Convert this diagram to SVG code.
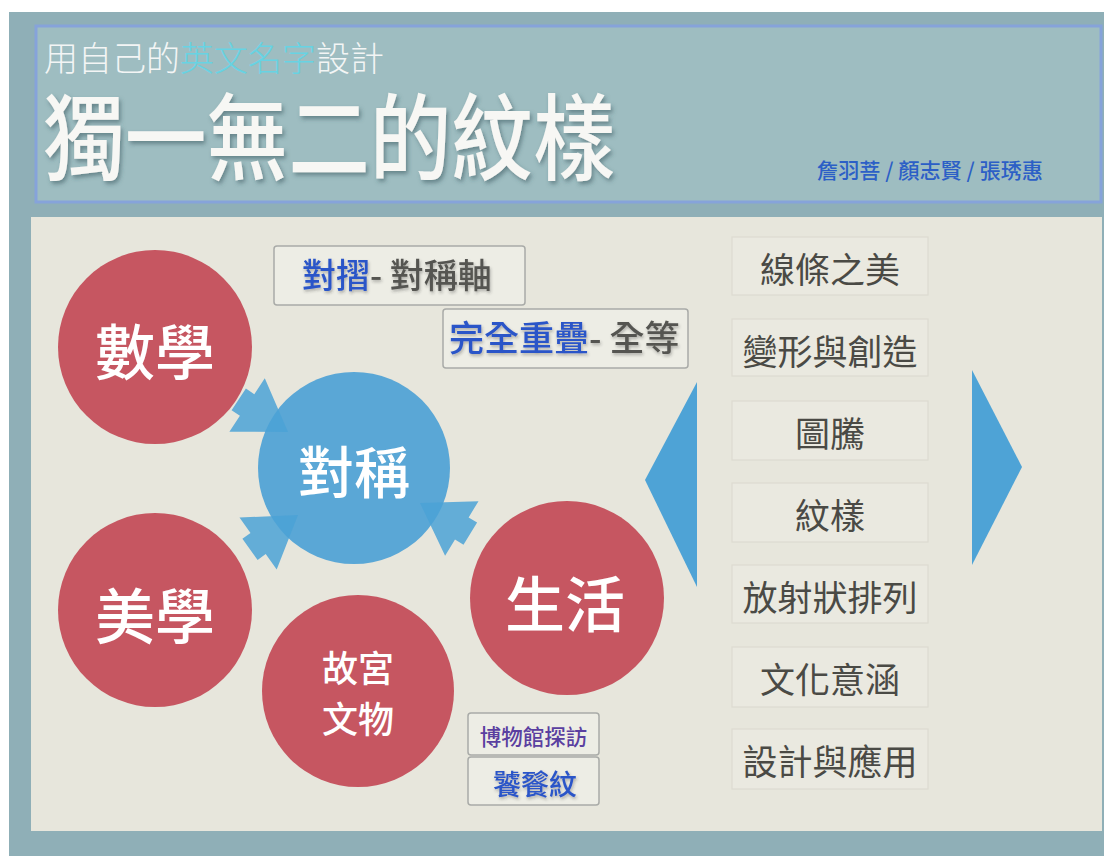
<svg xmlns="http://www.w3.org/2000/svg" width="1109" height="856" viewBox="0 0 1109 856">
<defs>
<style>
.cjk{font-family:"Noto Sans CJK TC","Noto Sans CJK SC",sans-serif;}
.red{fill:#c65661;}
.blue{fill:#5aa7d6;}
.arrow{fill:#4ba2d6;fill-opacity:0.85;}
.ctext{fill:#ffffff;text-anchor:middle;dominant-baseline:central;font-weight:500;}
.item rect{fill:#eae9e0;stroke:#dddbd1;stroke-width:1.2;}
.item text{fill:#4a4a45;font-size:35px;text-anchor:middle;dominant-baseline:central;}
.note{fill:#ffffff;fill-opacity:0.28;stroke:#a9aba8;stroke-width:1.5;}
.tri{fill:#4ea3d6;}
.sub{font-size:34px;font-weight:300;}
</style>
<filter id="sh" x="-10%" y="-20%" width="130%" height="150%">
<feDropShadow dx="2" dy="3" stdDeviation="2" flood-color="#2f4d55" flood-opacity="0.5"/>
</filter>
<filter id="sh2" x="-10%" y="-20%" width="130%" height="150%">
<feDropShadow dx="1" dy="2" stdDeviation="1.5" flood-color="#333" flood-opacity="0.35"/>
</filter>
</defs>

<rect x="0" y="0" width="1109" height="856" fill="#ffffff"/>
<rect x="9" y="12" width="1095" height="844" fill="#8fafb7"/>

<g id="header">
<rect x="36" y="26" width="1065" height="176" fill="#9ebdc1" stroke="#86a3da" stroke-width="3"/>
<text class="cjk sub" x="44" y="71" fill="#f3f5f5">用自己的</text>
<text class="cjk sub" x="180" y="71" fill="#67d3e3">英文名字</text>
<text class="cjk sub" x="316" y="71" fill="#f3f5f5">設計</text>
<text class="cjk" x="43" y="173" font-size="94" font-weight="500" fill="#f7f7f4" filter="url(#sh)" textLength="572" lengthAdjust="spacingAndGlyphs">獨一無二的紋樣</text>
<text class="cjk" x="817" y="178" font-size="21" font-weight="500" fill="#2c5fc6" textLength="226" lengthAdjust="spacingAndGlyphs">詹羽菩 / 顏志賢 / 張琇惠</text>
</g>

<rect id="panel" x="31" y="217" width="1071" height="614" fill="#e7e6dc"/>

<g id="node-symmetry">
<circle class="blue" cx="354" cy="468" r="96"/>
<text class="cjk ctext" x="354" y="468" font-size="56">對稱</text>
</g>

<g id="connectors">
<polygon class="arrow" points="288,432 229.4,431.7 239.9,415.8 231.6,410.2 245.9,388.6 254.3,394.2 264.8,378.3"/>
<polygon class="arrow" points="298,515 276.7,569.5 265.7,554.1 257.6,559.9 242.4,538.7 250.5,532.9 239.5,517.5"/>
<polygon class="arrow" points="420,503 478.5,501.2 468.6,517.4 477.1,522.6 463.5,544.8 455,539.6 445.1,555.8"/>
</g>

<g id="node-math">
<circle class="red" cx="155" cy="347" r="97"/>
<text class="cjk ctext" x="155" y="348" font-size="60">數學</text>
</g>
<g id="node-aesthetics">
<circle class="red" cx="155" cy="610" r="97"/>
<text class="cjk ctext" x="155" y="612" font-size="60">美學</text>
</g>
<g id="node-palace">
<circle class="red" cx="358" cy="691" r="96"/>
<text class="cjk ctext" x="358" y="666" font-size="36">故宮</text>
<text class="cjk ctext" x="358" y="717" font-size="36">文物</text>
</g>
<g id="node-life">
<circle class="red" cx="567" cy="598" r="97"/>
<text class="cjk ctext" x="565" y="600" font-size="60">生活</text>
</g>

<g id="note-fold">
<rect class="note" x="274" y="246" width="251" height="59" rx="3"/>
<text class="cjk" x="302" y="288" font-size="34" font-weight="500" filter="url(#sh2)"><tspan fill="#2a55c8">對摺</tspan><tspan fill="#555551">- 對稱軸</tspan></text>
</g>
<g id="note-overlap">
<rect class="note" x="443" y="309" width="245" height="59" rx="3"/>
<text class="cjk" x="449" y="351" font-size="35" font-weight="500" filter="url(#sh2)"><tspan fill="#2a55c8">完全重疊</tspan><tspan fill="#555551">- 全等</tspan></text>
</g>
<g id="note-museum">
<rect class="note" x="468" y="713" width="131" height="42" rx="3"/>
<text class="cjk" x="533.5" y="735" font-size="21.5" font-weight="500" fill="#5a3fa0" text-anchor="middle" dominant-baseline="central">博物館探訪</text>
</g>
<g id="note-taotie">
<rect class="note" x="468" y="757" width="131" height="48" rx="3"/>
<text class="cjk" x="535" y="783" font-size="28" font-weight="500" fill="#2a55c8" text-anchor="middle" dominant-baseline="central" filter="url(#sh2)">饕餮紋</text>
</g>

<g id="tri-left"><polygon class="tri" points="697,382 645,480 697,587"/></g>
<g id="tri-right"><polygon class="tri" points="972,370 1022,467 972,565"/></g>

<g id="item1" class="item cjk"><rect x="732" y="237" width="196" height="58"/><text x="830" y="267">線條之美</text></g>
<g id="item2" class="item cjk"><rect x="732" y="319" width="196" height="57"/><text x="830" y="349">變形與創造</text></g>
<g id="item3" class="item cjk"><rect x="732" y="401" width="196" height="59"/><text x="830" y="431">圖騰</text></g>
<g id="item4" class="item cjk"><rect x="732" y="483" width="196" height="59"/><text x="830" y="513">紋樣</text></g>
<g id="item5" class="item cjk"><rect x="732" y="565" width="196" height="58"/><text x="830" y="595">放射狀排列</text></g>
<g id="item6" class="item cjk"><rect x="732" y="647" width="196" height="60"/><text x="830" y="677">文化意涵</text></g>
<g id="item7" class="item cjk"><rect x="732" y="729" width="196" height="60"/><text x="830" y="759">設計與應用</text></g>
</svg>
